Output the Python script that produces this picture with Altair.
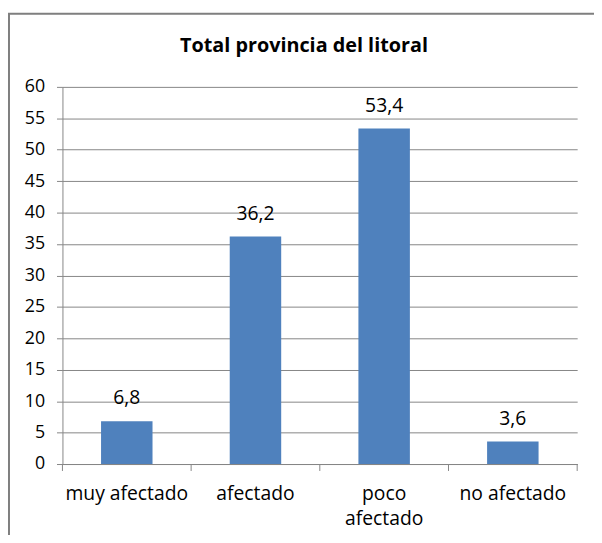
import altair as alt
import pandas as pd

categories = ["muy afectado", "afectado", "poco afectado", "no afectado"]
values = [6.8, 36.2, 53.4, 3.6]
y_ticks = [0, 5, 10, 15, 20, 25, 30, 35, 40, 45, 50, 55, 60]
title_text = "Total provincia del litoral"

df = pd.DataFrame({"categoria": categories, "valor": values})
df["etiqueta"] = [f"{v:.1f}".replace(".", ",") for v in values]

FONT = "Open Sans"
GRAY = "#868686"
BLUE = "#4F81BD"
W, H = 520, 381

x_enc = alt.X(
    "categoria:N",
    sort=categories,
    title=None,
    scale=alt.Scale(paddingInner=0, paddingOuter=0),
    axis=alt.Axis(
        labelAngle=0,
        ticks=False,
        labelFont=FONT,
        labelFontSize=19.5,
        labelColor="#000000",
        labelPadding=21,
        labelLineHeight=25,
        labelExpr="length(datum.value) > 12 ? split(datum.value, ' ') : datum.value",
        domainColor=GRAY,
        grid=False,
    ),
)

y_enc = alt.Y(
    "valor:Q",
    scale=alt.Scale(domain=[0, 60], nice=False),
    axis=alt.Axis(
        values=y_ticks,
        title=None,
        grid=True,
        gridColor=GRAY,
        domainColor=GRAY,
        tickColor=GRAY,
        tickSize=6,
        labelFont=FONT,
        labelFontSize=18,
        labelColor="#000000",
        labelPadding=12,
    ),
)

base = alt.Chart(df).encode(x=x_enc, y=y_enc)

bars = base.mark_bar(color=BLUE, width=alt.RelativeBandSize(0.4))

labels = base.mark_text(
    baseline="alphabetic", dy=-17, font=FONT, fontSize=19.5, color="#000000"
).encode(text="etiqueta:N")

ticks_start = alt.Chart(df).mark_rule(color=GRAY).encode(
    x=alt.X("categoria:N", sort=categories, bandPosition=0),
    y=alt.value(H),
    y2=alt.value(H + 7),
)
ticks_end = alt.Chart(df).transform_filter(
    alt.datum.categoria == categories[-1]
).mark_rule(color=GRAY).encode(
    x=alt.X("categoria:N", sort=categories, bandPosition=1),
    y=alt.value(H),
    y2=alt.value(H + 7),
)

title_df = pd.DataFrame({"titulo": [title_text]})
title_mark = alt.Chart(title_df).mark_text(
    font=FONT, fontSize=20, fontWeight="bold", color="#000000",
    align="center", baseline="alphabetic",
).encode(text="titulo:N", x=alt.value(244), y=alt.value(-35))

frame = alt.Chart(title_df).mark_rect(
    fillOpacity=0, stroke="#7f7f7f", strokeWidth=2
).encode(x=alt.value(-54), x2=alt.value(560), y=alt.value(-74), y2=alt.value(480))

chart = alt.layer(frame, bars, labels, ticks_start, ticks_end, title_mark).properties(
    width=W,
    height=H,
    autosize=alt.AutoSizeParams(type="none"),
    padding={"left": 55, "top": 77, "right": 17, "bottom": 69},
).configure_view(strokeWidth=0)

chart.save("out.html", embed_options={"renderer": "svg", "actions": False})
